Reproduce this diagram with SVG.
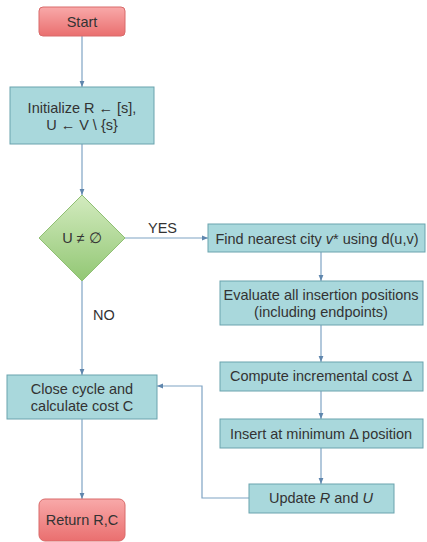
<svg xmlns="http://www.w3.org/2000/svg" width="427" height="542" viewBox="0 0 427 542">
<defs>
<linearGradient id="red" x1="0" y1="0" x2="0" y2="1">
<stop offset="0" stop-color="#f8a9a9"/>
<stop offset="1" stop-color="#ea6f6f"/>
</linearGradient>
<linearGradient id="green" x1="0" y1="0" x2="0" y2="1">
<stop offset="0" stop-color="#d3ebbf"/>
<stop offset="1" stop-color="#92c774"/>
</linearGradient>
<marker id="arr" viewBox="0 0 10 10" refX="10" refY="5" markerWidth="6" markerHeight="6" orient="auto" markerUnits="userSpaceOnUse">
<path d="M0,1 L10,5 L0,9 z" fill="#5f86ad"/>
</marker>
<style>
.t{font-family:"Liberation Sans",Arial,sans-serif;font-size:14.5px;fill:#333;text-anchor:middle}
.l{font-family:"Liberation Sans",Arial,sans-serif;font-size:14.5px;fill:#333}
.box{fill:#a9d8dc;stroke:#6aa3ae;stroke-width:1}
.term{fill:url(#red);stroke:#d96a6a;stroke-width:1}
.c{fill:none;stroke:#7fa3c4;stroke-width:1.2;marker-end:url(#arr)}
</style>
</defs>
<rect width="427" height="542" fill="#fff"/>
<g id="connectors">
<line class="c" x1="82" y1="36" x2="82" y2="87"/>
<line class="c" x1="82" y1="144" x2="82" y2="195"/>
<line class="c" x1="125" y1="238" x2="208" y2="238"/>
<line class="c" x1="82" y1="281" x2="82" y2="375"/>
<line class="c" x1="321" y1="252" x2="321" y2="281"/>
<line class="c" x1="321" y1="325" x2="321" y2="362"/>
<line class="c" x1="321" y1="391" x2="321" y2="419"/>
<line class="c" x1="321" y1="448" x2="321" y2="484"/>
<polyline class="c" points="249,498 202,498 202,386 157,386"/>
<line class="c" x1="82" y1="419" x2="82" y2="499"/>
<text class="l" x="148" y="233">YES</text>
<text class="l" x="93" y="320">NO</text>
</g>
<g id="start">
<rect class="term" x="39" y="7" width="86" height="29" rx="4"/>
<text class="t" x="82" y="27">Start</text>
</g>
<g id="init">
<rect class="box" x="10" y="87" width="144" height="57"/>
<text class="t" x="82" y="113">Initialize R ← [s],</text>
<text class="t" x="82" y="130">U ← V \ {s}</text>
</g>
<g id="decision">
<polygon points="82,195 125,238 82,281 39,238" fill="url(#green)" stroke="#8fbf73" stroke-width="1"/>
<text class="t" x="82" y="243">U ≠ ∅</text>
</g>
<g id="find">
<rect class="box" x="208" y="224" width="217" height="28"/>
<text class="t" x="317" y="244">Find nearest city <tspan font-style="italic">v</tspan>* using d(u,v)</text>
</g>
<g id="evaluate">
<rect class="box" x="220" y="281" width="203" height="44"/>
<text class="t" x="321" y="300">Evaluate all insertion positions</text>
<text class="t" x="321" y="317">(including endpoints)</text>
</g>
<g id="compute">
<rect class="box" x="220" y="362" width="203" height="29"/>
<text class="t" x="321" y="381">Compute incremental cost Δ</text>
</g>
<g id="insert">
<rect class="box" x="220" y="419" width="203" height="29"/>
<text class="t" x="321" y="439">Insert at minimum Δ position</text>
</g>
<g id="update">
<rect class="box" x="249" y="484" width="145" height="29"/>
<text class="t" x="321" y="503">Update <tspan font-style="italic">R</tspan> and <tspan font-style="italic">U</tspan></text>
</g>
<g id="close">
<rect class="box" x="7" y="375" width="150" height="44"/>
<text class="t" x="82" y="394">Close cycle and</text>
<text class="t" x="82" y="411">calculate cost C</text>
</g>
<g id="return">
<rect class="term" x="39" y="499" width="86" height="42" rx="6"/>
<text class="t" x="82" y="525">Return R,C</text>
</g>
</svg>
